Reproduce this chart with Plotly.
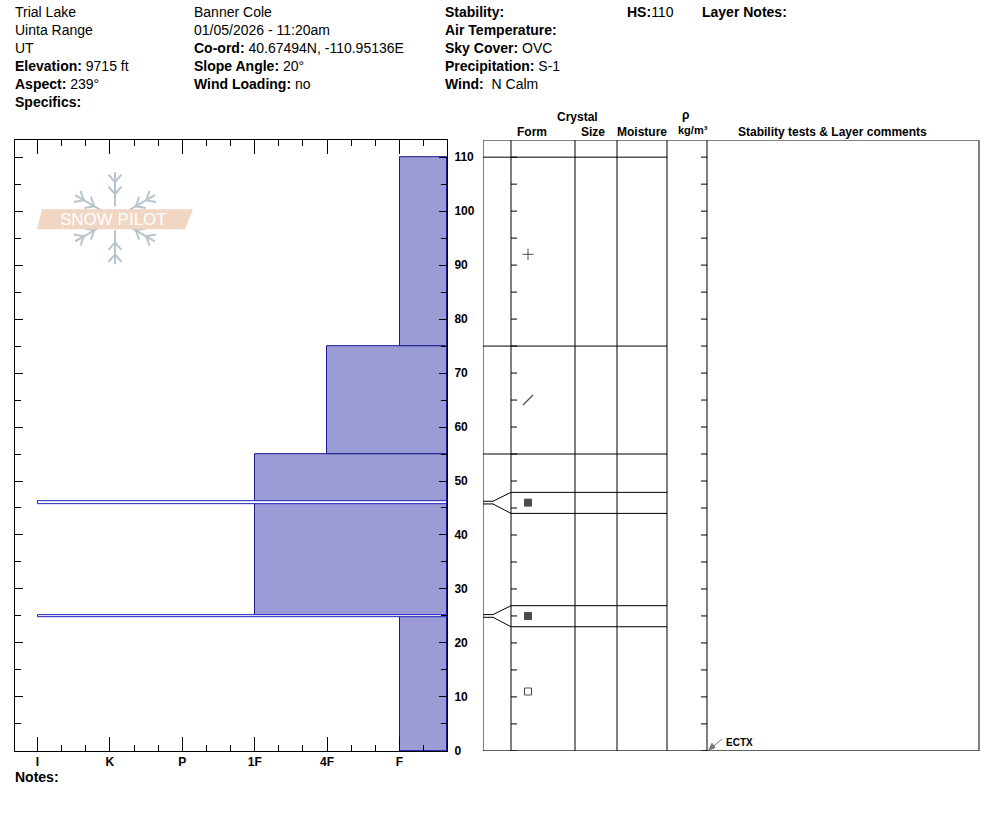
import plotly.graph_objects as go
import math

W, H = 994, 840
SY = 0.9905
FONT = "Liberation Sans"

def X(px):
    return px / W

def Y(py):
    return 1 - py / (H * SY)

# ---- data ----
hard_labels = ["I", "K", "P", "1F", "4F", "F"]
hard_vals = [0, 1, 2, 3, 4, 5]
layer_bottom = [0, 25, 55, 75]
layer_top = [25, 55, 75, 110]
layer_hard = [5, 3, 4, 5]
thin_heights = [46, 25]
thin_hard = [0, 0]
grain_heights = [92, 65, 46, 25, 11]
grain_symbols = ["cross-thin", "line-ne", "square", "square", "square-open"]
test_heights = [0]
test_labels = ["ECTX"]
HS = 110

fig = go.Figure()
XR = [-0.311, 5.656]
YR = [0, 113.15]
fill = "#9b9bd5"
navy = "#1a1a8c"

fig.add_bar(orientation="h", y=[(b + t) / 2 for b, t in zip(layer_bottom, layer_top)],
            width=[t - b for b, t in zip(layer_bottom, layer_top)],
            base=layer_hard, x=[XR[1] - h for h in layer_hard],
            marker=dict(color=fill, line=dict(color=navy, width=1)),
            showlegend=False, hoverinfo="skip")
fig.add_bar(orientation="h", y=thin_heights, width=[0.45] * len(thin_heights),
            base=thin_hard, x=[XR[1] - h for h in thin_hard],
            marker=dict(color="white", line=dict(color="#2020c0", width=1)),
            showlegend=False, hoverinfo="skip")

fig.add_scatter(x=[528] * len(grain_heights), y=grain_heights, xaxis="x2", yaxis="y2",
                mode="markers",
                marker=dict(symbol=grain_symbols, size=[8, 10, 7, 7, 7], color="black",
                            line=dict(color="black", width=[1, 1.3, 1, 1, 1])),
                showlegend=False, hoverinfo="skip")

fig.update_layout(
    width=W, height=H, margin=dict(l=0, r=0, t=0, b=0),
    paper_bgcolor="white", plot_bgcolor="white", bargap=0,
    font=dict(family=FONT, color="black", size=14),
    xaxis=dict(domain=[X(15), X(447)], range=XR, tickvals=hard_vals, ticktext=hard_labels,
               ticks="inside", ticklen=14, tickwidth=1, tickcolor="black",
               minor=dict(dtick=1 / 3, tick0=0, ticks="inside", ticklen=6, tickcolor="black"),
               showline=True, linecolor="black", linewidth=1, mirror="ticks",
               showgrid=False, zeroline=False, tickfont=dict(size=12, weight="bold"),
               ticklabelstandoff=0, fixedrange=True),
    yaxis=dict(domain=[Y(750), Y(140)], range=YR, side="right", tickvals=list(range(0, 111, 10)),
               ticks="inside", ticklen=8, tickcolor="black",
               minor=dict(dtick=5, ticks="inside", ticklen=6, tickcolor="black"),
               showline=True, linecolor="black", mirror="ticks", showgrid=False, zeroline=False,
               tickfont=dict(size=12, weight="bold"), ticklabelstandoff=4, fixedrange=True),
    xaxis2=dict(domain=[X(483), X(980)], range=[483, 980], anchor="y2", visible=False, fixedrange=True),
    yaxis2=dict(domain=[Y(750), Y(140)], range=YR, anchor="x2", visible=False, fixedrange=True),
)

shapes = []
def ln(x0, y0, x1, y1, ref="2", w=1, color="black"):
    shapes.append(dict(type="line", xref="x" + ref, yref="y" + ref, x0=x0, y0=y0, x1=x1, y1=y1,
                       line=dict(color=color, width=w)))

shapes.append(dict(type="rect", xref="x2", yref="y2", x0=483, x1=979, y0=YR[0], y1=YR[1],
                   line=dict(color="black", width=1)))
for cx in [511, 575, 617, 667, 707]:
    ln(cx, YR[0], cx, YR[1])
for h in range(0, 111, 5):
    ln(511, h, 517, h)
    ln(701, h, 707, h)
thin_set = set(thin_heights)
for b in sorted(set(layer_bottom + layer_top)):
    if b in thin_set or b == 0:
        continue
    ln(483, b, 667, b)
for th in thin_heights:
    up, dn = th + 1.9, th - 2
    ln(511, up, 667, up)
    ln(511, dn, 667, dn)
    for off in (0.25, -0.25):
        ln(483, th + off, 493, th + off)
    ln(493, th + 0.25, 511, up)
    ln(493, th - 0.25, 511, dn)
for h in test_heights:
    ln(710, h + 0.3, 722, h + 2.2, color="#777")
    shapes.append(dict(type="path", xref="x2", yref="y2",
                       path=f"M 709 {h+0.2} L 715 {h+0.6} L 712 {h+1.4} Z",
                       fillcolor="#777", line=dict(color="#777", width=1)))

ann = []
def txt(x, y, s, size=14, bold=False, anchor="left"):
    if bold:
        s = "<b>" + s + "</b>"
    ann.append(dict(x=X(x), y=Y(y), xref="paper", yref="paper", text=s, showarrow=False,
                    xanchor=anchor, yanchor="middle", font=dict(size=size, family=FONT)))

rows = [12, 30, 48, 66, 84, 102]
col1 = ["Trial Lake", "Uinta Range", "UT", "<b>Elevation:</b> 9715 ft", "<b>Aspect:</b> 239°", "<b>Specifics:</b>"]
col2 = ["Banner Cole", "01/05/2026 - 11:20am", "<b>Co-ord:</b> 40.67494N, -110.95136E",
        "<b>Slope Angle:</b> 20°", "<b>Wind Loading:</b> no"]
col3 = ["<b>Stability:</b>", "<b>Air Temperature:</b>", "<b>Sky Cover:</b> OVC",
        "<b>Precipitation:</b> S-1", "<b>Wind:</b>  N Calm"]
for y, s in zip(rows, col1):
    txt(13, y, s)
for y, s in zip(rows, col2):
    txt(192, y, s)
for y, s in zip(rows, col3):
    txt(443, y, s)
txt(625, 12, f"<b>HS:</b>{HS}")
txt(700, 12, "Layer Notes:", bold=True)
txt(13, 776, "Notes:", bold=True)

txt(577, 117, "Crystal", 12, True, "center")
txt(532, 132, "Form", 12, True, "center")
txt(593, 132, "Size", 12, True, "center")
txt(642, 132, "Moisture", 12, True, "center")
txt(685, 115, "ρ", 12, True, "center")
txt(693, 130, "kg/m³", 11, True, "center")
txt(832, 132, "Stability tests & Layer comments", 12, True, "center")

for h, s in zip(test_heights, test_labels):
    ann.append(dict(x=724, y=h + 1.5, xref="x2", yref="y2", text="<b>" + s + "</b>", showarrow=False,
                    xanchor="left", yanchor="middle", font=dict(size=10, family=FONT)))

logo = []
cx, cy = 115, 218
logo.append(dict(type="path", xref="paper", yref="paper",
                 path=f"M {X(42)} {Y(209)} L {X(193)} {Y(209)} L {X(185)} {Y(229)} L {X(37)} {Y(229)} Z",
                 fillcolor="#f1d6c3", line=dict(width=0), layer="above"))
for k in range(6):
    a = math.pi / 2 + k * math.pi / 3
    dx, dy = math.cos(a), math.sin(a)
    logo.append(dict(type="line", xref="paper", yref="paper",
                     x0=X(cx + 12 * dx), y0=Y(cy - 12 * dy),
                     x1=X(cx + 46 * dx), y1=Y(cy - 46 * dy),
                     line=dict(color="#b8c4cc", width=2), layer="below"))
    for rr in (24, 36):
        for s in (-1, 1):
            b = a + s * 0.7
            px, py = cx + rr * dx, cy - rr * dy
            logo.append(dict(type="line", xref="paper", yref="paper",
                             x0=X(px), y0=Y(py), x1=X(px + 10 * math.cos(b)),
                             y1=Y(py - 10 * math.sin(b)),
                             line=dict(color="#b8c4cc", width=2), layer="below"))
fig.update_layout(shapes=shapes + logo)
txt(113, 219, "SNOW PILOT", 17, False, "center")
ann[-1]["font"]["color"] = "white"

fig.update_layout(annotations=ann)
fig.write_html("out.html", config={"displayModeBar": False},
               post_script="document.body.style.margin='0';document.body.style.overflow='hidden';")
